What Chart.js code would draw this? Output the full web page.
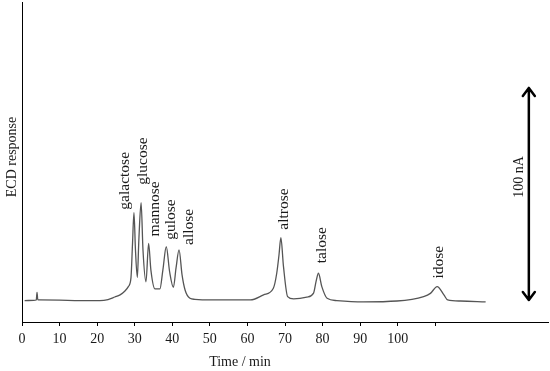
<!DOCTYPE html>
<html>
<head>
<meta charset="utf-8">
<script src="https://cdn.jsdelivr.net/npm/chart.js@4"></script>
<style>
  html, body { margin: 0; padding: 0; background: #fff; }
  #wrap { width: 550px; height: 371px; }
</style>
</head>
<body>
<div id="wrap"><canvas id="chromatogram"></canvas></div>
<script>
// retention time (min) and ECD response (nA)
const times = [
  0.7, 3.1, 3.8, 4.0, 4.2, 4.7, 10, 15.4, 20.7, 22.9, 24.7, 26.1, 27.4, 28.3, 29.0, 29.4,
  29.8, 30.2, 30.7, 31.1, 31.7, 32.2, 33.0, 33.7, 34.3, 35.4, 36.7, 37.5, 38.4, 39.3,
  40.3, 41.0, 41.8, 42.6, 43.4, 44.7, 46.0, 50, 55.4, 60.8, 64.3, 66.9, 67.8, 68.4,
  68.9, 69.6, 70.7, 72.3, 75.8, 77.6, 78.3, 78.9, 79.8, 81.2, 83.8, 90.9, 99.8,
  106.9, 108.7, 110.5, 112.3, 113.3, 116.7, 123.4
];
const response = [
  -0.3, -0.2, 0, 3.6, 0.1, 0, -0.1, -0.3, -0.3, 0.2, 1.4, 2.4, 4.2, 6.3, 10.4, 25.9,
  41.2, 23.6, 10.7, 28.3, 45.9, 23.6, 8.6, 26.7, 14.2, 5.2, 5.2, 14.2, 25.1, 13.2,
  6.0, 15.1, 23.6, 11.8, 4.7, 0.8, 0.3, 0, 0, 0, 2.4, 5.5, 12.6, 21.2,
  29.4, 15.7, 1.6, 0.5, 1.3, 3.2, 9.0, 12.6, 6.3, 0.8, -0.3, -0.9, -0.5,
  1.6, 3.1, 6.3, 2.4, 0, -0.5, -0.9
];

const peakNames = ['galactose', 'glucose', 'mannose', 'gulose', 'allose', 'altrose', 'talose', 'idose'];
const peakTimes = [29.8, 31.7, 33.7, 38.4, 41.8, 68.9, 78.9, 110.5];
const peakValues = [41.2, 45.9, 26.7, 25.1, 23.6, 29.4, 12.6, 6.3];

const xTicks = [0, 10, 20, 30, 40, 50, 60, 70, 80, 90, 100, 110];
const scaleBar = [0, 100]; // nA
const scaleBarTime = 134.9;

const serif = '"Liberation Serif", "DejaVu Serif", serif';
const ink = '#1a1a1a';

// nudges so the rotated names sit where they do in the figure
const labelNudge = [[-9, -3], [2, -18], [6, -7], [5, -7], [10, -5], [3, -8], [3, -10], [2, -8]];

const overlay = {
  id: 'overlay',
  afterDraw(chart) {
    const { ctx, scales } = chart;
    const x = scales.x, y = scales.y;
    ctx.save();
    ctx.fillStyle = ink;
    ctx.font = '14px ' + serif;

    // axis titles
    ctx.textAlign = 'center';
    ctx.textBaseline = 'middle';
    ctx.fillText('Time / min', 240, 362);
    ctx.save();
    ctx.translate(12, 157);
    ctx.rotate(-Math.PI / 2);
    ctx.fillText('ECD response', 0, 0);
    ctx.restore();

    // peak names, reading upward
    ctx.font = '15.5px ' + serif;
    ctx.textAlign = 'left';
    peakNames.forEach((name, i) => {
      const px = x.getPixelForValue(peakTimes[i]) + labelNudge[i][0];
      const py = y.getPixelForValue(peakValues[i]) + labelNudge[i][1];
      ctx.save();
      ctx.translate(px, py);
      ctx.rotate(-Math.PI / 2);
      ctx.fillText(name, 0, 0);
      ctx.restore();
    });

    // 100 nA double arrow
    const ax = x.getPixelForValue(scaleBarTime);
    const y0 = y.getPixelForValue(scaleBar[0]);
    const y1 = y.getPixelForValue(scaleBar[1]);
    ctx.strokeStyle = '#000';
    ctx.lineWidth = 2.5;
    ctx.lineCap = 'round';
    ctx.lineJoin = 'round';
    ctx.beginPath();
    ctx.moveTo(ax, y0);
    ctx.lineTo(ax, y1);
    ctx.moveTo(ax - 6, y1 + 8);
    ctx.lineTo(ax, y1);
    ctx.lineTo(ax + 6, y1 + 8);
    ctx.moveTo(ax - 6, y0 - 8);
    ctx.lineTo(ax, y0);
    ctx.lineTo(ax + 6, y0 - 8);
    ctx.stroke();

    ctx.font = '14px ' + serif;
    ctx.save();
    ctx.translate(ax - 10, y.getPixelForValue(58));
    ctx.rotate(-Math.PI / 2);
    ctx.textAlign = 'center';
    ctx.fillText('100 nA', 0, 0);
    ctx.restore();

    ctx.restore();
  }
};

new Chart(document.getElementById('chromatogram'), {
  type: 'line',
  data: {
    datasets: [{
      data: times.map((t, i) => ({ x: t, y: response[i] })),
      borderColor: '#555',
      borderWidth: 1.3,
      pointRadius: 0,
      cubicInterpolationMode: 'monotone',
      fill: false
    }]
  },
  options: {
    responsive: true,
    maintainAspectRatio: false,
    animation: false,
    layout: { padding: { left: 22, top: 2, right: 2, bottom: 0 } },
    plugins: { legend: { display: false }, tooltip: { enabled: false } },
    scales: {
      x: {
        type: 'linear',
        min: 0,
        max: 140,
        afterBuildTicks: scale => { scale.ticks = xTicks.map(v => ({ value: v })); },
        afterFit: scale => { scale.height = 49; },
        ticks: {
          color: ink,
          font: { family: serif, size: 14 },
          padding: 5,
          maxRotation: 0,
          autoSkip: false,
          callback: v => (v <= 100 ? v : '')
        },
        grid: { drawOnChartArea: false, drawTicks: true, tickLength: 4, color: '#000' },
        border: { display: true, color: '#000', width: 1 }
      },
      y: {
        min: -10.4,
        max: 140.6,
        afterFit: scale => { scale.width = 0; },
        ticks: { display: false },
        grid: { display: false },
        border: { display: true, color: '#000', width: 1 }
      }
    }
  },
  plugins: [overlay]
});
</script>
</body>
</html>
